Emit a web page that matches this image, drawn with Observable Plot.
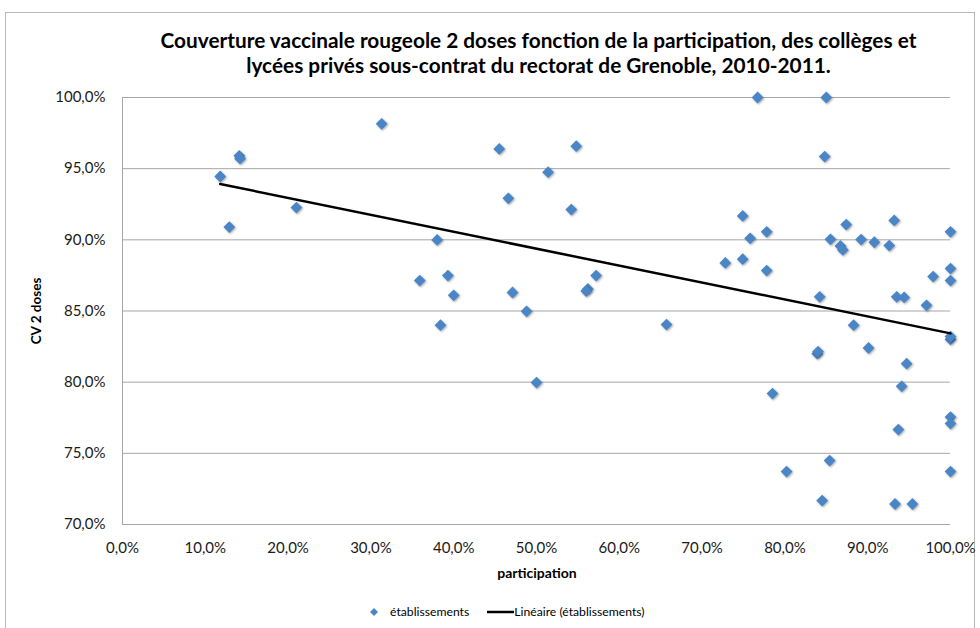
<!DOCTYPE html>
<html>
<head>
<meta charset="utf-8">
<script src="https://cdn.jsdelivr.net/npm/d3@7"></script>
<script src="https://cdn.jsdelivr.net/npm/@observablehq/plot@0.6"></script>
<style>
  html, body { margin: 0; padding: 0; background: #fff; }
  #wrap { position: relative; width: 980px; height: 628px; overflow: hidden; font-family: Lato, "Open Sans", sans-serif; color: #000; }
  #frame { position: absolute; left: 5px; top: 12px; width: 970px; height: 700px; border: 1px solid #b8b8b8; box-sizing: border-box; }
  #title { position: absolute; left: 0; width: 1077px; top: 27px; text-align: center; font-weight: bold; font-size: 20.8px; line-height: 25px; }
  #ylab { position: absolute; left: 36px; top: 311px; transform: translate(-50%, -50%) rotate(-90deg); font-weight: bold; font-size: 13.5px; white-space: nowrap; }
  #xlab { position: absolute; left: 537px; top: 572px; transform: translate(-50%, -50%); font-weight: bold; font-size: 14px; white-space: nowrap; }
  #legend { position: absolute; top: 604px; left: 367px; font-size: 12.2px; display: flex; align-items: center; white-space: nowrap; }
  #chart { position: absolute; left: 0; top: 0; }
  .pts path { filter: drop-shadow(1px 1.5px 1px rgba(0,0,0,0.35)); }
</style>
</head>
<body>
<div id="wrap">
  <div id="frame"></div>
  <div id="chart"></div>
  <div id="title">Couverture vaccinale rougeole 2 doses fonction de la participation, des collèges et<br>lycées privés sous-contrat du rectorat de Grenoble, 2010-2011.</div>
  <div id="ylab">CV 2 doses</div>
  <div id="xlab">participation</div>
  <div id="legend">
    <svg width="14" height="14" style="margin-right:9px"><path d="M7,3 L11,7 L7,11 L3,7 Z" fill="#4a86c6"/></svg>
    <span>établissements</span>
    <svg width="27" height="14" style="margin-left:18px"><line x1="0" y1="7" x2="27" y2="7" stroke="#000" stroke-width="2.5"/></svg>
    <span>Linéaire (établissements)</span>
  </div>
</div>
<script>
const participation = [
  11.8, 14.1, 14.2, 12.9, 21.0, 31.3, 45.5, 54.8, 51.4, 46.6,
  54.2, 38.0, 35.9, 39.3, 40.0, 47.1, 48.8, 38.4, 57.2, 56.2,
  56.0, 65.7, 50.0, 76.7, 85.0, 84.8, 74.9, 75.8, 77.8, 72.8,
  74.9, 77.8, 87.4, 85.5, 86.7, 87.0, 89.2, 90.8, 92.6, 93.2,
  100, 100, 100, 97.9, 93.5, 94.4, 84.2, 97.1, 88.3, 100,
  100, 83.9, 84.0, 90.1, 94.7, 94.1, 78.5, 100, 100, 93.7,
  85.4, 80.2, 100, 84.5, 93.3, 95.4
];
const couverture = [
  94.45, 95.9, 95.7, 90.9, 92.27, 98.15, 96.39, 96.58, 94.75, 92.92,
  92.13, 89.99, 87.14, 87.49, 86.1, 86.3, 84.98, 84.0, 87.49, 86.55,
  86.4, 84.05, 79.97, 100, 100, 95.85, 91.68, 90.11, 90.56, 88.38,
  88.64, 87.84, 91.07, 90.04, 89.57, 89.29, 90.02, 89.83, 89.6, 91.36,
  90.56, 87.98, 87.14, 87.42, 86.0, 85.95, 86.0, 85.4, 84.0, 83.0,
  83.2, 82.0, 82.15, 82.4, 81.3, 79.71, 79.2, 77.55, 77.09, 76.67,
  74.49, 73.72, 73.72, 71.68, 71.44, 71.44
];
const xTicks = [0, 10, 20, 30, 40, 50, 60, 70, 80, 90, 100];
const yTicks = [70, 75, 80, 85, 90, 95, 100];

const data = participation.map((p, i) => ({p, cv: couverture[i]}));
const fmt = d => d.toFixed(1).replace(".", ",") + "%";

const chart = Plot.plot({
  width: 980,
  height: 628,
  marginTop: 97,
  marginBottom: 104,
  marginLeft: 122,
  marginRight: 30,
  style: {fontFamily: "Lato, 'Open Sans', sans-serif", background: "transparent", color: "#000"},
  x: {domain: [0, 100]},
  y: {domain: [70, 100]},
  marks: [
    Plot.gridY(yTicks, {stroke: "#a6a6a6", strokeOpacity: 1, strokeWidth: 1}),
    Plot.ruleX([0], {stroke: "#a6a6a6", strokeWidth: 1}),
    Plot.axisX(xTicks, {tickSize: 0, tickPadding: 18, tickFormat: fmt, fontSize: 15, label: null, fill: "#1a1a1a"}),
    Plot.axisY(yTicks, {tickSize: 0, tickPadding: 17, tickFormat: fmt, fontSize: 15, label: null, fill: "#1a1a1a"}),
    Plot.dot(data, {x: "p", y: "cv", symbol: "diamond2", r: 5.3, fill: "#4a86c6", stroke: "none", className: "pts"}),
    Plot.linearRegressionY(data, {x: "p", y: "cv", stroke: "#000", strokeWidth: 2.5, ci: 0})
  ]
});
document.getElementById("chart").appendChild(chart);
</script>
</body>
</html>
